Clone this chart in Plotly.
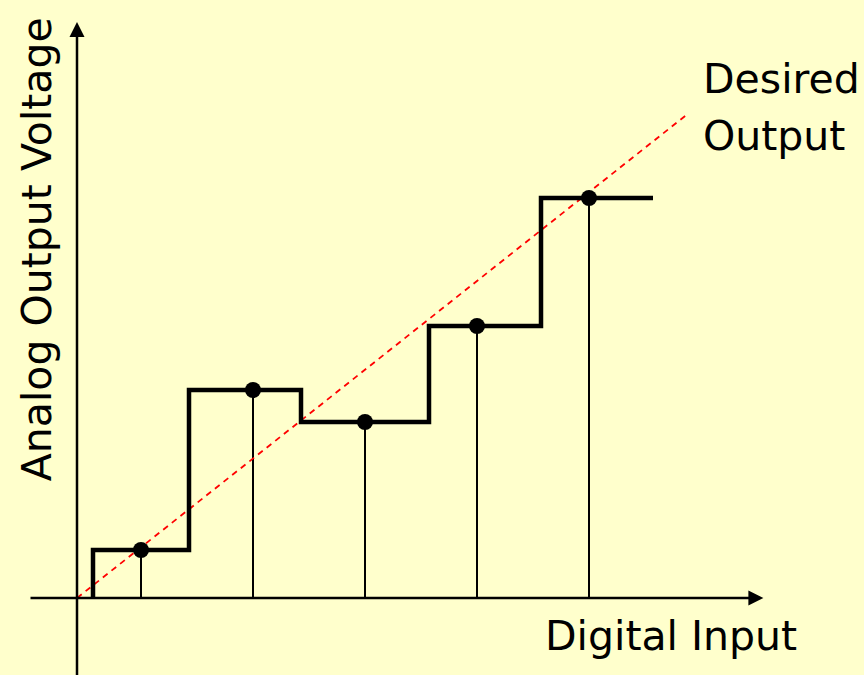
import plotly.graph_objects as go

# Digital codes (sample positions) and the DAC output level at each code
code_x = [4, 11, 18, 25, 32]
output_y = [3, 13, 11, 17, 25]

# Boundaries where the staircase output changes level
step_edges = [1, 7, 14, 22, 29, 36]
step_levels = [0] + output_y

# Ideal linear transfer (desired output)
ideal_x = [0, 38.1]
ideal_y = [0, 30.2]

BG = "#FFFFCC"
FONT = "DejaVu Sans, sans-serif"
FSIZE = 41

fig = go.Figure()

# Vertical drop lines from the axis to each sampled output
for xv, yv in zip(code_x, output_y):
    fig.add_trace(go.Scatter(x=[xv, xv], y=[0, yv], mode="lines",
                             line=dict(color="black", width=2),
                             hoverinfo="skip", showlegend=False))

# Ideal output (dashed red)
fig.add_trace(go.Scatter(x=ideal_x, y=ideal_y, mode="lines",
                         line=dict(color="#FF0000", width=1.8, dash="6px,5px"),
                         showlegend=False))

# Staircase DAC output
fig.add_trace(go.Scatter(x=step_edges, y=step_levels, mode="lines",
                         line=dict(color="black", width=4.5, shape="vh"),
                         showlegend=False))

# Sample points
fig.add_trace(go.Scatter(x=code_x, y=output_y, mode="markers",
                         marker=dict(color="black", size=16),
                         showlegend=False))

# Axes with arrow heads
axis_color = "black"
fig.add_annotation(x=42.9, y=0, ax=-3, ay=0, xref="x", yref="y",
                   axref="x", ayref="y", text="", showarrow=True,
                   arrowhead=2, arrowsize=1.2, arrowwidth=2.5,
                   arrowcolor=axis_color, standoff=0)
fig.add_annotation(x=0, y=36, ax=0, ay=-4.9, xref="x", yref="y",
                   axref="x", ayref="y", text="", showarrow=True,
                   arrowhead=2, arrowsize=1.2, arrowwidth=2.5,
                   arrowcolor=axis_color, standoff=0)

# Text labels
label_font = dict(family=FONT, size=FSIZE, color="black")
fig.add_annotation(x=37.1, y=-2.4, xref="x", yref="y", text="Digital Input",
                   showarrow=False, font=label_font,
                   xanchor="center", yanchor="middle")
fig.add_annotation(x=39.0, y=32.45, xref="x", yref="y", text="Desired",
                   showarrow=False, font=label_font,
                   xanchor="left", yanchor="middle")
fig.add_annotation(x=39.0, y=28.9, xref="x", yref="y", text="Output",
                   showarrow=False, font=label_font,
                   xanchor="left", yanchor="middle")
fig.add_annotation(x=-2.5, y=21.8, xref="x", yref="y",
                   text="Analog Output Voltage", showarrow=False, textangle=-90,
                   font=label_font, xanchor="center", yanchor="middle")

fig.update_layout(
    width=864, height=675,
    margin=dict(l=0, r=0, t=0, b=0, pad=0),
    paper_bgcolor=BG, plot_bgcolor=BG,
    xaxis=dict(range=[-4.8125, 49.1875], visible=False, fixedrange=True),
    yaxis=dict(range=[-4.8125, 37.375], visible=False, fixedrange=True),
    showlegend=False,
)

fig.write_html("out.html")
